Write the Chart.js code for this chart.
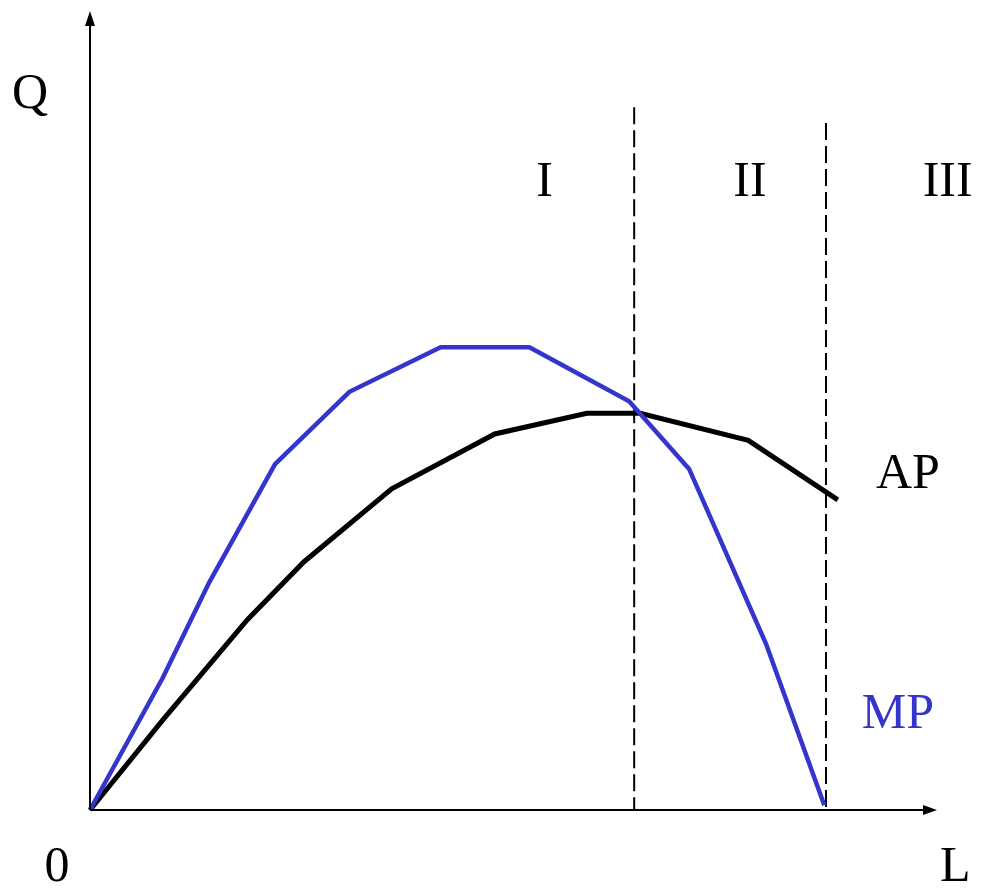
<!DOCTYPE html>
<html>
<head>
<meta charset="utf-8">
<script src="https://cdn.jsdelivr.net/npm/chart.js@4/dist/chart.umd.min.js"></script>
<style>
  html, body { margin: 0; padding: 0; background: #fff; }
  #wrap { width: 981px; height: 891px; }
  .fontwarm { font-family: "Liberation Serif"; position: absolute; left: -999px; }
</style>
</head>
<body>
<span class="fontwarm">QLAPMI0</span>
<div id="wrap"><canvas id="prodChart"></canvas></div>
<script>
// labour (L) and output units, 0..100 on both axes
const mpL = [0, 8.6, 14.1, 21.9, 30.7, 41.5, 52.0, 63.8, 70.9, 80.0, 86.9];
const mpQ = [0, 16.6, 28.6, 43.5, 52.6, 58.2, 58.2, 51.4, 42.9, 20.9, 0.6];

const apL = [0, 8.6, 18.6, 25.3, 35.7, 47.9, 58.8, 65.1, 77.9, 88.5];
const apQ = [0, 11.3, 23.9, 31.2, 40.4, 47.3, 49.9, 49.9, 46.5, 39.0];

// stage boundaries: L position and top of the dashed line
const stageL = [64.4, 87.1];
const stageTop = [88.4, 86.4];

// text placed in data units
const notes = [
  { text: 'Q',   x: -7.1, y: 90.0, color: '#000' },
  { text: '0',   x: -3.9, y: -7.3, color: '#000' },
  { text: 'L',   x: 102.4, y: -7.3, color: '#000' },
  { text: 'I',   x: 53.8, y: 78.9, color: '#000' },
  { text: 'II',  x: 78.1, y: 78.9, color: '#000' },
  { text: 'III', x: 101.5, y: 78.9, color: '#000' },
  { text: 'AP',  x: 96.8, y: 42.1, color: '#000' },
  { text: 'MP',  x: 95.6, y: 12.0, color: '#3535cc' }
];

const toPts = (xs, ys) => xs.map((x, i) => ({ x: x, y: ys[i] }));

// dashes start at the top of each boundary line
const stageSets = stageL.map((x, i) => ({
  label: 'stage' + i,
  data: [{ x: x, y: stageTop[i] }, { x: x, y: 0 }],
  showLine: true,
  borderColor: '#000',
  borderWidth: 2,
  borderDash: [17, 6],
  pointRadius: 0,
  clip: false
}));

// axes with arrow heads plus the text labels
const axesAndText = {
  id: 'axesAndText',
  afterDatasetsDraw(chart) {
    const { ctx, scales: { x, y } } = chart;
    const ox = x.getPixelForValue(0), oy = y.getPixelForValue(0);
    const xEnd = x.getPixelForValue(100), yEnd = y.getPixelForValue(100);
    ctx.save();
    ctx.strokeStyle = '#000';
    ctx.fillStyle = '#000';
    ctx.lineWidth = 2;
    ctx.beginPath();
    ctx.moveTo(ox, oy);
    ctx.lineTo(xEnd - 6, oy);
    ctx.moveTo(ox, oy);
    ctx.lineTo(ox, yEnd + 6);
    ctx.stroke();
    ctx.beginPath();
    ctx.moveTo(xEnd + 2, oy);
    ctx.lineTo(xEnd - 12, oy - 5);
    ctx.lineTo(xEnd - 12, oy + 5);
    ctx.closePath();
    ctx.fill();
    ctx.beginPath();
    ctx.moveTo(ox, yEnd - 4);
    ctx.lineTo(ox - 5, yEnd + 11);
    ctx.lineTo(ox + 5, yEnd + 11);
    ctx.closePath();
    ctx.fill();

    ctx.font = '50px "Liberation Serif", "Times New Roman", serif';
    ctx.textAlign = 'center';
    ctx.textBaseline = 'middle';
    notes.forEach(n => {
      ctx.fillStyle = n.color;
      ctx.fillText(n.text, x.getPixelForValue(n.x), y.getPixelForValue(n.y));
    });
    ctx.restore();
  }
};

const drawChart = () => new Chart(document.getElementById('prodChart'), {
  type: 'scatter',
  data: {
    datasets: [
      {
        label: 'MP',
        data: toPts(mpL, mpQ),
        showLine: true,
        borderColor: '#3535cc',
        borderWidth: 4.5,
        pointRadius: 0,
        tension: 0,
        clip: false
      },
      {
        label: 'AP',
        data: toPts(apL, apQ),
        showLine: true,
        borderColor: '#000',
        borderWidth: 5,
        pointRadius: 0,
        tension: 0,
        clip: false
      },
      ...stageSets
    ]
  },
  options: {
    responsive: true,
    maintainAspectRatio: false,
    animation: false,
    layout: { padding: { left: 90, right: 46, top: 15, bottom: 81 } },
    scales: {
      x: { type: 'linear', min: 0, max: 100, display: false },
      y: { type: 'linear', min: 0, max: 100, display: false }
    },
    plugins: {
      legend: { display: false },
      tooltip: { enabled: false }
    }
  },
  plugins: [axesAndText]
});

document.fonts.load('50px "Liberation Serif"').then(drawChart, drawChart);
</script>
</body>
</html>
